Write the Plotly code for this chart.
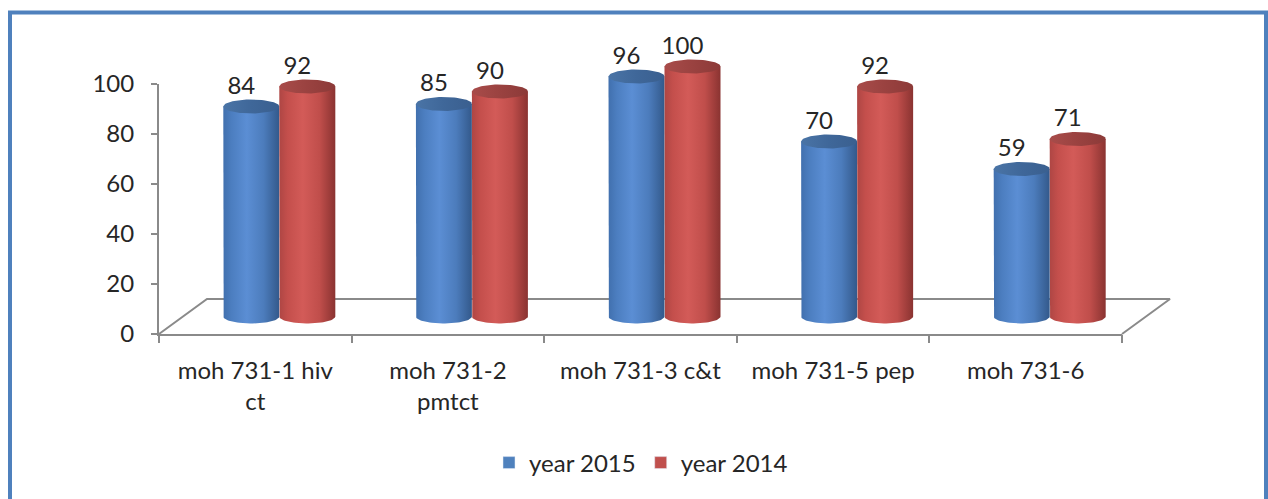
import numpy as np
import plotly.graph_objects as go

# ---- data ----
categories = ["moh 731-1 hiv<br>ct", "moh 731-2<br>pmtct", "moh 731-3 c&t",
              "moh 731-5 pep", "moh 731-6"]
year_2015 = [84, 85, 96, 70, 59]
year_2014 = [92, 90, 100, 92, 71]
value_ticks = [0, 20, 40, 60, 80, 100]
series_names = ["year 2015", "year 2014"]

# ---- geometry (pixels) ----
W, H = 1268, 499
AX_LEFT, AX_RIGHT = 159, 1122
AX_BOTTOM, AX_TOP = 334, 84
VMAX = 100
n = len(categories)
px_cat = (AX_RIGHT - AX_LEFT) / n
px_val = (AX_BOTTOM - AX_TOP) / VMAX

DEPTH_DX, DEPTH_DY = 48, 35          # oblique depth of the floor
CYL_RX, CYL_RY = 28, 7               # cylinder radius / ellipse half-height
LABEL_GAP = 19                       # label centre above the cap centre
LABEL_DX = -10                       # labels sit slightly in front of the bars

ddx, ddy = DEPTH_DX / px_cat, DEPTH_DY / px_val
rx, ry = CYL_RX / px_cat, CYL_RY / px_val
base = 0.5 * ddy
label_gap = LABEL_GAP / px_val
label_dx = LABEL_DX / px_cat

FONT = "Lato, 'Open Sans', sans-serif"
TXT = "#262626"
GRID = "#8a8a8a"

body_scales = [
    [[0, "#4170AE"], [0.15, "#4C7EC0"], [0.42, "#5B8ED4"], [0.72, "#4C7CBC"], [1, "#33598B"]],
    [[0, "#AE4644"], [0.15, "#C44F4C"], [0.42, "#D35B58"], [0.72, "#C04E4B"], [1, "#8A3331"]],
]
cap_scales = [
    [[0, "#4A74A6"], [0.5, "#3F6799"], [1, "#3A5F8F"]],
    [[0, "#A84C4A"], [0.5, "#9A4240"], [1, "#8C3A38"]],
]
legend_colors = ["#4F81BD", "#C0504D"]

fig = go.Figure()

# floor outline (front edge is the category axis line)
fig.add_trace(go.Scatter(
    x=[0, ddx, n + ddx, n], y=[0, ddy, ddy, 0],
    mode="lines", line=dict(color=GRID, width=2),
    hoverinfo="skip", showlegend=False))

t_low = np.linspace(np.pi, 2 * np.pi, 40)
t_all = np.linspace(0, 2 * np.pi, 80)

for i in range(n):
    pair_center = i + 0.5 + 0.5 * ddx
    for s, values in enumerate([year_2015, year_2014]):
        v = values[i]
        cx = pair_center + (2 * s - 1) * rx
        top = base + v
        # cylinder body
        bx = np.concatenate([[cx - rx, cx - rx], cx + rx * np.cos(t_low), [cx + rx, cx + rx]])
        by = np.concatenate([[top, base], base + ry * np.sin(t_low), [base, top]])
        fig.add_trace(go.Scatter(
            x=bx, y=by, mode="lines", fill="toself",
            fillgradient=dict(type="horizontal", colorscale=body_scales[s]),
            line=dict(width=0), hoverinfo="skip", showlegend=False))
        # top cap
        fig.add_trace(go.Scatter(
            x=cx + rx * np.cos(t_all), y=top + ry * np.sin(t_all),
            mode="lines", fill="toself",
            fillgradient=dict(type="horizontal", colorscale=cap_scales[s]),
            line=dict(width=0), hoverinfo="skip", showlegend=False))
        # value label
        fig.add_trace(go.Scatter(
            x=[cx + label_dx], y=[top + label_gap], mode="text", text=[str(v)],
            textposition="middle center",
            textfont=dict(family=FONT, size=24, color=TXT),
            hoverinfo="skip", showlegend=False))

# legend entries
for name, col in zip(series_names, legend_colors):
    fig.add_trace(go.Bar(x=[None], y=[None], name=name, marker_color=col))

hidden = dict(showgrid=False, zeroline=False, showline=False, showticklabels=False,
              ticks="", automargin=False)

fig.update_layout(
    width=W, height=H,
    margin=dict(l=0, r=0, t=0, b=0, pad=0, autoexpand=False),
    paper_bgcolor="white", plot_bgcolor="rgba(0,0,0,0)",
    showlegend=True,
    legend=dict(orientation="h", x=489 / W, xanchor="left", y=(H - 463) / H, yanchor="middle",
                font=dict(family=FONT, size=24, color=TXT), bgcolor="rgba(0,0,0,0)",
                itemclick=False, itemdoubleclick=False),
    xaxis=dict(domain=[0, 1], range=[-AX_LEFT / px_cat, (W - AX_LEFT) / px_cat], **hidden),
    yaxis=dict(domain=[0, 1], range=[(AX_BOTTOM - H) / px_val, AX_BOTTOM / px_val], **hidden),
    # visible value axis
    xaxis2=dict(domain=[AX_LEFT / W, AX_RIGHT / W], range=[0, n], anchor="y2", automargin=False,
                showgrid=False, zeroline=False, showline=True, linecolor=GRID, linewidth=2,
                tickmode="array", tickvals=[i + 0.5 for i in range(n)], ticktext=categories,
                ticks="", ticklabelstandoff=14,
                tickfont=dict(family=FONT, size=24, color=TXT)),
    yaxis2=dict(domain=[(H - AX_BOTTOM) / H, (H - AX_TOP) / H], range=[0, VMAX], anchor="x2",
                automargin=False,
                showgrid=False, zeroline=False, showline=True, linecolor=GRID, linewidth=2,
                tickmode="array", tickvals=value_ticks, ticks="outside", ticklen=6,
                tickcolor=GRID, tickwidth=2, ticklabelstandoff=12,
                tickfont=dict(family=FONT, size=24, color=TXT)),
    # category tick marks between groups
    xaxis3=dict(domain=[AX_LEFT / W, AX_RIGHT / W], range=[0, n], anchor="y2", overlaying="x2",
                automargin=False,
                side="bottom", showgrid=False, zeroline=False, showline=False,
                tickmode="array", tickvals=list(range(n + 1)), ticks="outside", ticklen=8,
                tickcolor=GRID, tickwidth=2, showticklabels=False),
    shapes=[dict(type="rect", xref="paper", yref="paper",
                 x0=10 / W, x1=1266 / W, y0=-0.1, y1=(H - 12.5) / H,
                 line=dict(color="#4F81BD", width=4), layer="above")],
)

# empty traces to activate the axis overlay subplot
fig.add_trace(go.Scatter(x=[None], y=[None], xaxis="x2", yaxis="y2", showlegend=False, hoverinfo="skip"))
fig.add_trace(go.Scatter(x=[None], y=[None], xaxis="x3", yaxis="y2", showlegend=False, hoverinfo="skip"))

fig.write_html("out.html")
